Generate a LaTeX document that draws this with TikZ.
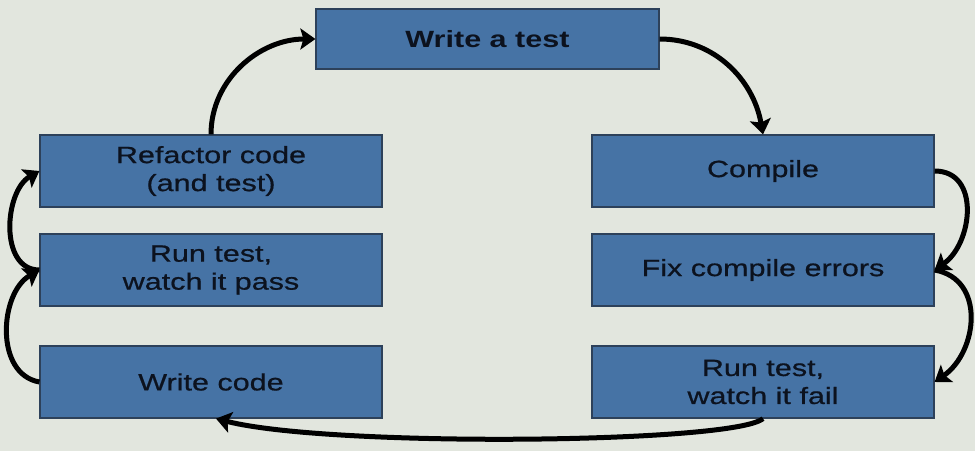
\documentclass[tikz,border=0pt]{standalone}
\usepackage{fontspec}
\setmainfont[FakeStretch=1.3, UprightFeatures={FakeBold=0.7}]{Liberation Sans}
\usetikzlibrary{arrows.meta}
\definecolor{bg}{RGB}{226,230,222}
\definecolor{boxfill}{RGB}{70,115,165}
\definecolor{boxline}{RGB}{45,65,90}
\definecolor{txt}{RGB}{12,18,30}
\begin{document}
\begin{tikzpicture}[x=1pt,y=1pt,
  stepbox/.style={draw=boxline, line width=1.2pt, fill=boxfill,
    minimum width=342pt, minimum height=72pt, inner sep=0pt,
    align=center, text=txt, font=\fontsize{23.5}{28}\selectfont},
  flow/.style={line width=5pt, -{Stealth[length=15pt,width=21pt,inset=3pt]}}]
\fill[bg] (0,0) rectangle (975,451);
\useasboundingbox (0,0) rectangle (975,451);

\node[stepbox, minimum width=343pt, minimum height=60pt] (wt) at (487.5,412) {\textbf{Write a test}};
\node[stepbox] (rc) at (211,280) {Refactor code\\(and test)};
\node[stepbox] (rp) at (211,181) {Run test,\\watch it pass};
\node[stepbox] (wc) at (211,69) {Write code};
\node[stepbox] (cp) at (763,280) {\raisebox{-2pt}{Compile}};
\node[stepbox] (fx) at (763,181) {\raisebox{-2pt}{Fix compile errors}};
\node[stepbox] (rf) at (763,69) {Run test,\\watch it fail};

\draw[flow] (rc.north) to[out=90,in=180] (wt.west);
\draw[flow] (wt.east) to[out=0,in=100] (cp.north);
\draw[flow] (cp.east) to[out=0,in=35,looseness=1.2] (fx.east);
\draw[flow] (fx.east) to[out=-10,in=35,looseness=1.2] (rf.east);
\draw[flow] (rf.south) .. controls ([shift={(-30,-25)}]rf.south) and ([shift={(119,-29)}]wc.south) .. ([xshift=5pt]wc.south);
\draw[flow] (wc.west) to[out=170,in=210,looseness=1.05] (rp.west);
\draw[flow] (rp.west) to[out=180,in=210,looseness=1.05] (rc.west);
\end{tikzpicture}
\end{document}
